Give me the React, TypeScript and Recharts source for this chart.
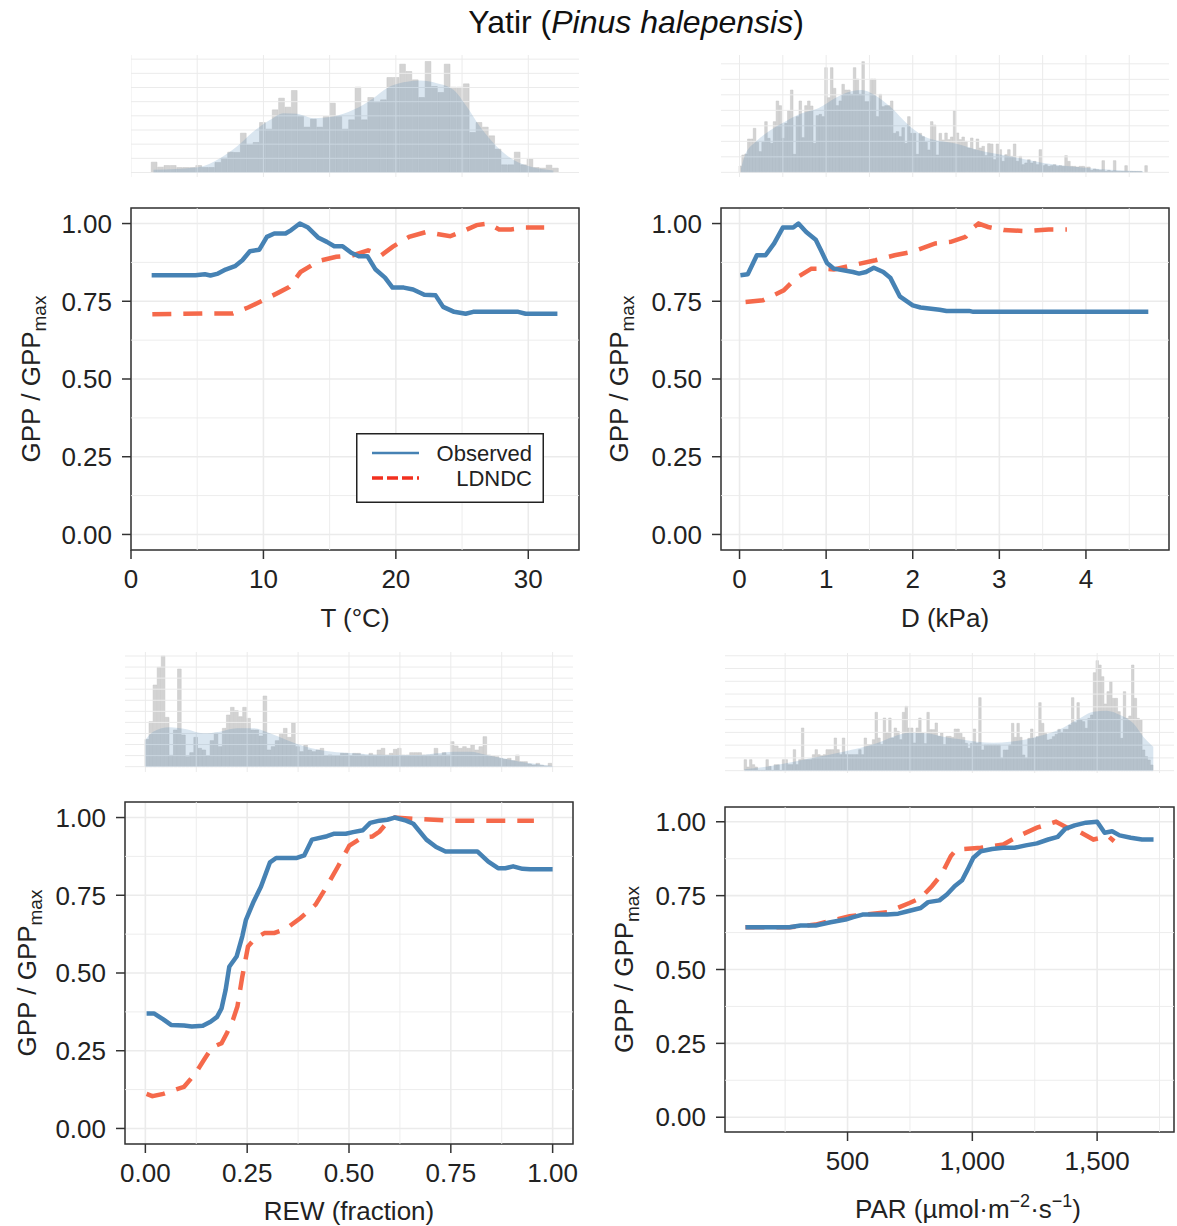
import React from 'react'
import {
  LineChart, Line, XAxis, YAxis, CartesianGrid, ReferenceLine, ReferenceArea,
  BarChart, Bar, AreaChart, Area, Legend,
} from 'recharts'

const FONT = '"Liberation Sans", Arial, Helvetica, sans-serif'
const OBS_COLOR = '#4682b4'
const MOD_COLOR = '#f5694b'
const GRID = '#ebebeb'
const INK = '#222'

type Pair = [number, number]

// ---------- response curves (x, GPP / GPPmax) ----------
const tObserved: Pair[] = [
  [1.56, 0.834], [4.87, 0.834], [5.58, 0.837], [6.0, 0.833], [6.57, 0.839], [7.14, 0.852], [7.85, 0.863],
  [8.41, 0.882], [8.98, 0.911], [9.69, 0.916], [10.26, 0.957], [10.82, 0.968], [11.67, 0.968], [12.1, 0.979],
  [12.75, 1.0], [13.37, 0.987], [14.16, 0.954], [14.79, 0.941], [15.35, 0.927], [15.98, 0.927], [16.63, 0.906],
  [17.2, 0.895], [17.85, 0.895], [18.47, 0.852], [19.18, 0.826], [19.75, 0.794], [20.6, 0.794], [21.3, 0.788],
  [22.15, 0.771], [23.0, 0.769], [23.57, 0.732], [24.4, 0.716], [25.27, 0.71], [25.84, 0.716], [29.24, 0.716],
  [29.8, 0.71], [32.2, 0.71],
]
const tModel: Pair[] = [
  [1.61, 0.708], [5.44, 0.711], [7.7, 0.711], [8.84, 0.73], [9.97, 0.753], [11.1, 0.777], [11.95, 0.796],
  [12.8, 0.844], [14.2, 0.88], [15.5, 0.893], [16.77, 0.898], [17.9, 0.914], [18.9, 0.898], [19.75, 0.925],
  [21.0, 0.957], [22.3, 0.973], [24.1, 0.959], [25.1, 0.976], [26.1, 0.995], [27.0, 1.0], [27.8, 0.981],
  [28.7, 0.981], [29.8, 0.987], [31.2, 0.987],
]

const dObserved: Pair[] = [
  [0.01, 0.834], [0.095, 0.837], [0.2, 0.898], [0.3, 0.898], [0.4, 0.936], [0.5, 0.987], [0.62, 0.987],
  [0.68, 1.0], [0.77, 0.973], [0.88, 0.948], [0.94, 0.914], [1.01, 0.873], [1.09, 0.855], [1.31, 0.844],
  [1.38, 0.839], [1.46, 0.844], [1.55, 0.858], [1.66, 0.844], [1.74, 0.826], [1.85, 0.766], [2.0, 0.737],
  [2.09, 0.73], [2.31, 0.723], [2.39, 0.719], [2.65, 0.719], [2.7, 0.716], [4.72, 0.716],
]
const dModel: Pair[] = [
  [0.07, 0.748], [0.27, 0.753], [0.51, 0.785], [0.66, 0.826], [0.83, 0.855], [0.96, 0.855], [1.09, 0.852],
  [1.31, 0.866], [1.57, 0.882], [1.79, 0.898], [2.0, 0.909], [2.26, 0.936], [2.44, 0.941], [2.61, 0.957],
  [2.7, 0.987], [2.76, 1.0], [2.87, 0.989], [3.05, 0.979], [3.3, 0.976], [3.57, 0.981], [3.78, 0.981],
]

const rewObserved: Pair[] = [
  [0.003, 0.37], [0.021, 0.37], [0.044, 0.351], [0.063, 0.333], [0.095, 0.331], [0.114, 0.328], [0.141, 0.33],
  [0.16, 0.343], [0.176, 0.359], [0.187, 0.386], [0.197, 0.445], [0.206, 0.52], [0.224, 0.553], [0.238, 0.618],
  [0.247, 0.671], [0.266, 0.73], [0.284, 0.778], [0.306, 0.856], [0.321, 0.87], [0.372, 0.87], [0.39, 0.878],
  [0.409, 0.929], [0.446, 0.94], [0.464, 0.948], [0.492, 0.948], [0.51, 0.953], [0.534, 0.959], [0.552, 0.983],
  [0.575, 0.99], [0.594, 0.993], [0.612, 1.0], [0.64, 0.99], [0.658, 0.98], [0.69, 0.929], [0.714, 0.905],
  [0.737, 0.891], [0.815, 0.891], [0.842, 0.858], [0.866, 0.837], [0.884, 0.837], [0.903, 0.843], [0.926, 0.835],
  [0.945, 0.834], [1.0, 0.834],
]
const rewModel: Pair[] = [
  [0.003, 0.111], [0.017, 0.104], [0.044, 0.111], [0.095, 0.134], [0.123, 0.177], [0.146, 0.225], [0.164, 0.261],
  [0.187, 0.274], [0.2, 0.306], [0.215, 0.349], [0.226, 0.392], [0.238, 0.488], [0.252, 0.585], [0.27, 0.612],
  [0.293, 0.629], [0.317, 0.629], [0.344, 0.641], [0.381, 0.677], [0.418, 0.72], [0.446, 0.78], [0.474, 0.845],
  [0.501, 0.91], [0.534, 0.937], [0.557, 0.939], [0.575, 0.955], [0.594, 0.985], [0.612, 1.0], [0.658, 0.996],
  [0.75, 0.99], [0.954, 0.99],
]

const parObserved: Pair[] = [
  [91, 0.643], [267, 0.643], [312, 0.649], [372, 0.649], [432, 0.66], [492, 0.669], [523, 0.677], [560, 0.686],
  [658, 0.686], [703, 0.689], [741, 0.697], [793, 0.708], [823, 0.728], [868, 0.734], [898, 0.754], [929, 0.782],
  [959, 0.802], [981, 0.838], [1004, 0.878], [1034, 0.9], [1079, 0.908], [1124, 0.912], [1169, 0.912],
  [1214, 0.92], [1259, 0.927], [1304, 0.94], [1342, 0.949], [1372, 0.976], [1410, 0.988], [1455, 0.997],
  [1500, 1.0], [1530, 0.963], [1560, 0.968], [1590, 0.954], [1635, 0.946], [1680, 0.94], [1726, 0.94],
]
const parModel: Pair[] = [
  [91, 0.643], [267, 0.643], [372, 0.652], [508, 0.68], [658, 0.694], [748, 0.725], [793, 0.742], [838, 0.782],
  [876, 0.821], [914, 0.884], [936, 0.906], [1034, 0.912], [1124, 0.923], [1184, 0.951], [1259, 0.98],
  [1335, 1.0], [1380, 0.98], [1425, 0.968], [1485, 0.94], [1545, 0.951], [1568, 0.934],
]

// ---------- marginal histograms (counts per bin) + density ----------
const T_BIN_START = 1.77
const T_BIN_WIDTH = 0.481
const tCounts = [
  31, 16, 21, 21, 15, 15, 15, 21, 15, 15, 30, 43, 61, 60, 118, 83, 90, 150, 130, 188,
  223, 196, 246, 168, 136, 160, 136, 168, 208, 168, 130, 158, 256, 158, 225, 210, 218, 285, 285, 325,
  303, 278, 225, 333, 258, 240, 325, 256, 256, 266, 120, 150, 136, 110, 70, 23, 23, 61, 23, 40,
  15, 13, 22, 13,
]
const tDensX = [1.7, 5.09, 6.73, 7.99, 9.25, 10.51, 11.51, 12.52, 13.77, 15.28, 16.79, 18.3, 19.31, 20.57, 21.83, 23.09, 24.35, 25.35, 26.35, 27.62, 28.87, 30.13, 31.89]
const tDens = [8, 16, 43, 78, 123, 158, 178, 176, 163, 168, 188, 223, 253, 271, 276, 268, 248, 198, 138, 78, 38, 18, 6]

const D_BIN_START = 0.01
const D_BIN_WIDTH = 0.033
const dCounts = [
  19, 52, 55, 100, 100, 132, 90, 62, 90, 152, 102, 87, 152, 214, 200, 102, 147, 185, 247, 54,
  167, 214, 104, 200, 214, 199, 87, 170, 174, 167, 314, 224, 314, 252, 200, 214, 264, 247, 247, 234,
  314, 280, 234, 332, 212, 212, 280, 280, 167, 234, 197, 200, 200, 214, 117, 122, 107, 134, 87, 167,
  117, 117, 54, 117, 107, 90, 67, 152, 142, 52, 117, 97,
  118, 98, 106, 185, 118, 98, 106, 93, 73, 103, 68, 100, 73, 78, 50, 86, 85, 38, 85, 68,
  33, 53, 68, 48, 85, 33, 48, 23, 28, 38, 28, 33, 23, 68, 20, 23, 18, 20, 23, 18,
  20, 18, 50, 33, 18, 18, 16, 18, 18, 16, 16, 6, 10, 8, 6, 35, 3, 6, 3, 35,
  3, 3, 3, 20, 3, 3, 3, 3, 3, 0, 20,
]
const dDensX = [0.017, 0.064, 0.18, 0.33, 0.525, 0.72, 0.91, 1.1, 1.3, 1.41, 1.56, 1.76, 1.95, 2.14, 2.41, 2.55, 2.74, 3.12, 3.51, 3.89, 4.28, 4.66]
const dDens = [12, 52, 90, 122, 152, 177, 192, 222, 244, 247, 232, 192, 142, 107, 90, 83, 68, 48, 28, 16, 8, 3]

const REW_BIN_START = 0.004
const REW_BIN_WIDTH = 0.01
const rewCounts = [
  82, 135, 245, 298, 332, 148, 34, 110, 293, 95, 30, 42, 88, 55, 50, 32, 78, 100, 60, 115,
  155, 178, 168, 150, 178, 145, 110, 110, 92, 212, 50, 60, 78, 100, 115, 88, 132, 60, 45, 65,
  50, 45, 50, 55, 32, 35, 32, 32, 40, 40, 32, 40,
  40, 35, 32, 40, 35, 50, 55, 35, 40, 52, 55, 35, 35, 42, 42, 42, 35, 35, 35, 55,
  35, 42, 35, 75, 62, 55, 60, 55, 65, 50, 60, 90, 35, 32, 30, 25, 22, 25, 18, 35,
  15, 15, 8, 5, 10, 4, 2, 10,
]
const rewDensX = [0.0, 0.019, 0.06, 0.101, 0.142, 0.183, 0.224, 0.265, 0.306, 0.347, 0.388, 0.429, 0.511, 0.593, 0.675, 0.715, 0.756, 0.797, 0.838, 0.879, 0.92, 0.961, 1.0]
const rewDens = [80, 105, 118, 112, 100, 105, 115, 115, 100, 80, 62, 50, 40, 35, 35, 40, 45, 45, 35, 25, 15, 8, 2]

const PAR_BIN_START = 91
const PAR_BIN_WIDTH = 10.93
const parCounts = [
  33, 11, 33, 18, 11, 1, 1, 1, 33, 13, 1, 18, 18, 1, 33, 33, 18, 18, 63, 18,
  33, 128, 33, 33, 33, 48, 63, 48, 45, 48, 63, 63, 63, 98, 63, 48, 98, 48, 48, 48,
  48, 48, 63, 48, 98, 78, 78, 93, 175, 98, 78, 158, 113, 158, 98, 128, 118, 93, 175, 193,
  128, 128, 83, 128, 158, 113, 81, 175, 123, 123, 143, 103, 113, 78, 103, 103,
  100, 125, 125, 112, 100, 82, 67, 82, 125, 82, 219, 62, 77, 77, 77, 77, 77, 77,
  37, 62, 62, 77, 142, 100, 142, 100, 47, 37, 97, 125, 97, 102, 204, 142, 112, 92, 94, 102,
  109, 124, 114, 124, 124, 137, 219, 144, 204, 152, 147, 127, 157, 167, 294, 330, 317, 282, 200, 237,
  267, 217, 217, 177, 97, 237, 157, 164, 317, 217, 157, 152, 62, 42, 32, 17,
]
const parDensX = [87, 216, 350, 483, 617, 683, 750, 817, 884, 951, 1018, 1084, 1151, 1218, 1284, 1351, 1418, 1485, 1538, 1592, 1645, 1685, 1725]
const parDens = [4, 17, 37, 57, 82, 102, 114, 112, 102, 94, 87, 84, 87, 94, 107, 124, 152, 177, 180, 167, 142, 102, 72]

// ---------- axes ----------
const Y_TICKS = [0, 0.25, 0.5, 0.75, 1]
const Y_MINOR = [0.125, 0.375, 0.625, 0.875]
const Y_DOMAIN: [number, number] = [-0.05, 1.05]

const Y_W = 120
const X_H = 100
const M_TOP = 10
const M_RIGHT = 10

const pts = (a: Pair[]) => a.map(([x, y]) => ({ x, y }))
const bins = (start: number, width: number, counts: number[]) =>
  counts.map((n, i) => ({ x: start + i * width, n }))
const dens = (xs: number[], ds: number[]) => xs.map((x, i) => ({ x, d: ds[i] }))

function LegendBox() {
  return (
    <svg width={188} height={70} style={{ display: 'block' }}>
      <rect x={0.75} y={0.75} width={186.5} height={68.5} fill="#fff" stroke={INK} strokeWidth={1.5} />
      <line x1={16} x2={63} y1={20} y2={20} stroke={OBS_COLOR} strokeWidth={2.5} />
      <text x={176} y={28} textAnchor="end" fontSize={22} fill={INK} fontFamily={FONT}>Observed</text>
      <line x1={16} x2={63} y1={45} y2={45} stroke="#f2301f" strokeWidth={3.5} strokeDasharray="11 4" />
      <text x={176} y={53} textAnchor="end" fontSize={22} fill={INK} fontFamily={FONT}>LDNDC</text>
    </svg>
  )
}

interface PanelProps {
  plotL: number
  plotR: number
  plotT: number
  plotB: number
  xDomain: [number, number]
  xTicks: number[]
  xMinor: number[]
  fmtX: (v: number) => string
  observed: Pair[]
  modelled: Pair[]
  yTitleX: number
  xTitleX: number
  xTitleY: number
  xTitle: React.ReactNode
  legendAt?: [number, number]
}

function GppPanel(p: PanelProps) {
  const chartL = p.plotL - Y_W
  const chartT = p.plotT - M_TOP
  const w = Y_W + (p.plotR - p.plotL) + M_RIGHT
  const h = M_TOP + (p.plotB - p.plotT) + X_H
  const midY = M_TOP + (p.plotB - p.plotT) / 2
  const yx = p.yTitleX - chartL

  return (
    <div style={{ position: 'absolute', left: chartL, top: chartT }}>
      <LineChart width={w} height={h} margin={{ top: M_TOP, right: M_RIGHT, bottom: 0, left: 0 }}>
        <CartesianGrid stroke={GRID} strokeWidth={1.6} />
        {p.xMinor.map(v => <ReferenceLine key={'mx' + v} x={v} stroke={GRID} strokeWidth={0.9} />)}
        {Y_MINOR.map(v => <ReferenceLine key={'my' + v} y={v} stroke={GRID} strokeWidth={0.9} />)}
        <XAxis
          type="number"
          dataKey="x"
          domain={p.xDomain}
          allowDataOverflow
          ticks={p.xTicks}
          interval={0}
          tickFormatter={p.fmtX}
          height={X_H}
          tickSize={9}
          tickMargin={11}
          axisLine={false}
          tickLine={{ stroke: '#333', strokeWidth: 1.5 }}
          tick={{ fontSize: 26, fill: INK }}
          label={() => (
            <text x={p.xTitleX - chartL} y={p.xTitleY - chartT} textAnchor="middle" fontSize={26} fill={INK}>
              {p.xTitle}
            </text>
          )}
        />
        <YAxis
          type="number"
          domain={Y_DOMAIN}
          allowDataOverflow
          ticks={Y_TICKS}
          interval={0}
          tickFormatter={(v: number) => v.toFixed(2)}
          width={Y_W}
          tickSize={9}
          tickMargin={10}
          axisLine={false}
          tickLine={{ stroke: '#333', strokeWidth: 1.5 }}
          tick={{ fontSize: 26, fill: INK }}
          label={() => (
            <text
              x={yx}
              y={midY}
              textAnchor="middle"
              fontSize={26}
              fill={INK}
              transform={`rotate(-90, ${yx}, ${midY})`}
            >
              GPP / GPP<tspan fontSize={19} dy={6}>max</tspan>
            </text>
          )}
        />
        <Line
          data={pts(p.modelled)}
          dataKey="y"
          type="linear"
          stroke={MOD_COLOR}
          strokeWidth={4.5}
          strokeDasharray="19 12"
          dot={false}
          activeDot={false}
          isAnimationActive={false}
        />
        <Line
          data={pts(p.observed)}
          dataKey="y"
          type="linear"
          stroke={OBS_COLOR}
          strokeWidth={4.5}
          strokeLinejoin="round"
          dot={false}
          activeDot={false}
          isAnimationActive={false}
        />
        <ReferenceArea
          x1={p.xDomain[0]}
          x2={p.xDomain[1]}
          y1={Y_DOMAIN[0]}
          y2={Y_DOMAIN[1]}
          fill="none"
          stroke="#333"
          strokeWidth={1.5}
          ifOverflow="visible"
        />
        {p.legendAt && (
          <Legend
            layout="horizontal"
            verticalAlign="middle"
            align="center"
            content={() => <LegendBox />}
            wrapperStyle={{ left: p.legendAt[0] - chartL, top: p.legendAt[1] - chartT, width: 188, height: 70 }}
          />
        )}
      </LineChart>
    </div>
  )
}

interface HistProps {
  plotL: number
  plotR: number
  plotT: number
  plotB: number
  xDomain: [number, number]
  yDomain: [number, number]
  data: { x: number; n: number }[]
  density: { x: number; d: number }[]
  binWidth: number
  xGrid: number[]
  yGrid: number[]
}

// histogram bars and the density overlay are two stacked charts sharing the same scales
function MarginalHist(p: HistProps) {
  const w = p.plotR - p.plotL
  const h = p.plotB - p.plotT
  const barSize = (p.binWidth * w) / (p.xDomain[1] - p.xDomain[0])
  const margin = { top: 0, right: 0, bottom: 0, left: 0 }
  return (
    <div style={{ position: 'absolute', left: p.plotL, top: p.plotT, width: w, height: h }}>
      <div style={{ position: 'absolute', left: 0, top: 0 }}>
        <BarChart width={w} height={h} data={p.data} margin={margin} barCategoryGap={0} barGap={0}>
          <XAxis type="number" dataKey="x" domain={p.xDomain} allowDataOverflow hide />
          <YAxis type="number" domain={p.yDomain} allowDataOverflow hide />
          {p.xGrid.map(v => <ReferenceLine key={'gx' + v} x={v} stroke={GRID} strokeWidth={1} />)}
          {p.yGrid.map(v => <ReferenceLine key={'gy' + v} y={v} stroke={GRID} strokeWidth={1} />)}
          <Bar dataKey="n" fill="#d3d3d3" stroke="#c4c4c4" strokeWidth={0.5} barSize={barSize} isAnimationActive={false} />
        </BarChart>
      </div>
      <div style={{ position: 'absolute', left: 0, top: 0 }}>
        <AreaChart width={w} height={h} data={p.density} margin={margin}>
          <XAxis type="number" dataKey="x" domain={p.xDomain} allowDataOverflow hide />
          <YAxis type="number" domain={p.yDomain} allowDataOverflow hide />
          <Area
            dataKey="d"
            type="monotone"
            baseValue={0}
            fill={OBS_COLOR}
            fillOpacity={0.2}
            stroke="none"
            isAnimationActive={false}
          />
        </AreaChart>
      </div>
    </div>
  )
}

const P1 = { plotL: 131, plotR: 579, plotT: 208, plotB: 550, xDomain: [0, 33.83] as [number, number] }
const P2 = { plotL: 721, plotR: 1169, plotT: 208, plotB: 550, xDomain: [-0.214, 4.959] as [number, number] }
const P3 = { plotL: 125, plotR: 573, plotT: 802, plotB: 1144, xDomain: [-0.05, 1.05] as [number, number] }
const P4 = { plotL: 725, plotR: 1174, plotT: 807, plotB: 1132, xDomain: [9, 1808] as [number, number] }

export default function App() {
  return (
    <div
      style={{
        position: 'absolute', left: 0, top: 0, width: 1177, height: 1226,
        background: '#fff', overflow: 'hidden', fontFamily: FONT, color: INK,
      }}
    >
      <div style={{ position: 'absolute', left: 0, top: 6, width: 1272, textAlign: 'center', fontSize: 32, lineHeight: '32px', color: '#111' }}>
        Yatir (<i>Pinus halepensis</i>)
      </div>

      {/* marginal distributions */}
      <MarginalHist
        plotL={P1.plotL} plotR={P1.plotR} plotT={55} plotB={177} xDomain={P1.xDomain} yDomain={[-13.5, 352.5]}
        data={bins(T_BIN_START, T_BIN_WIDTH, tCounts)} density={dens(tDensX, tDens)} binWidth={T_BIN_WIDTH}
        xGrid={[0, 5, 10, 15, 20, 25, 30]}
        yGrid={[0, 42.5, 85, 127.5, 170, 212.5, 255, 297.5, 340]}
      />
      <MarginalHist
        plotL={P2.plotL} plotR={P2.plotR} plotT={55} plotB={177} xDomain={P2.xDomain} yDomain={[-14, 352]}
        data={bins(D_BIN_START, D_BIN_WIDTH, dCounts)} density={dens(dDensX, dDens)} binWidth={D_BIN_WIDTH}
        xGrid={[0, 0.5, 1, 1.5, 2, 2.5, 3, 3.5, 4, 4.5]}
        yGrid={[0, 46.5, 93, 139.5, 186, 232.5, 279, 325.5]}
      />
      <MarginalHist
        plotL={P3.plotL} plotR={P3.plotR} plotT={652} plotB={772} xDomain={P3.xDomain} yDomain={[-16, 344]}
        data={bins(REW_BIN_START, REW_BIN_WIDTH, rewCounts)} density={dens(rewDensX, rewDens)} binWidth={REW_BIN_WIDTH}
        xGrid={[0, 0.125, 0.25, 0.375, 0.5, 0.625, 0.75, 0.875, 1]}
        yGrid={[0, 33.2, 66.4, 99.6, 132.8, 166, 199.2, 232.4, 265.6, 298.8, 332]}
      />
      <MarginalHist
        plotL={P4.plotL} plotR={P4.plotR} plotT={653} plotB={773} xDomain={P4.xDomain} yDomain={[-7, 353]}
        data={bins(PAR_BIN_START, PAR_BIN_WIDTH, parCounts)} density={dens(parDensX, parDens)} binWidth={PAR_BIN_WIDTH}
        xGrid={[250, 500, 750, 1000, 1250, 1500, 1750]}
        yGrid={[0, 38.3, 76.6, 114.9, 153.2, 191.5, 229.8, 268.1, 306.4, 344.7]}
      />

      {/* response panels */}
      <GppPanel
        {...P1}
        xTicks={[0, 10, 20, 30]} xMinor={[5, 15, 25]} fmtX={v => String(v)}
        observed={tObserved} modelled={tModel}
        yTitleX={40} xTitleX={355} xTitleY={627} xTitle="T (°C)"
        legendAt={[356, 433]}
      />
      <GppPanel
        {...P2}
        xTicks={[0, 1, 2, 3, 4]} xMinor={[0.5, 1.5, 2.5, 3.5, 4.5]} fmtX={v => String(v)}
        observed={dObserved} modelled={dModel}
        yTitleX={628} xTitleX={945} xTitleY={627} xTitle="D (kPa)"
      />
      <GppPanel
        {...P3}
        xTicks={[0, 0.25, 0.5, 0.75, 1]} xMinor={[0.125, 0.375, 0.625, 0.875]} fmtX={v => v.toFixed(2)}
        observed={rewObserved} modelled={rewModel}
        yTitleX={36} xTitleX={349} xTitleY={1220} xTitle="REW (fraction)"
      />
      <GppPanel
        {...P4}
        xTicks={[500, 1000, 1500]} xMinor={[250, 750, 1250, 1750]} fmtX={v => v.toLocaleString('en-US')}
        observed={parObserved} modelled={parModel}
        yTitleX={633} xTitleX={968} xTitleY={1218}
        xTitle={
          <>
            PAR (µmol·m<tspan fontSize={18} dy={-11}>−2</tspan>
            <tspan dy={11}>·s</tspan>
            <tspan fontSize={18} dy={-11}>−1</tspan>
            <tspan dy={11}>)</tspan>
          </>
        }
      />
    </div>
  )
}
